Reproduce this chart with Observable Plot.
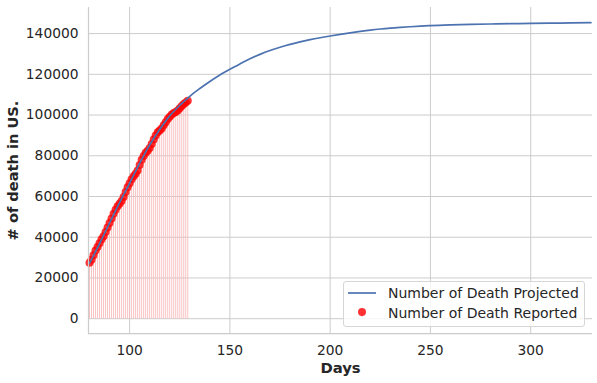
<!DOCTYPE html>
<html><head><meta charset="utf-8">
<script src="https://cdn.jsdelivr.net/npm/d3@7"></script>
<script src="https://cdn.jsdelivr.net/npm/@observablehq/plot@0.6"></script>
<style>
body{margin:0;background:#fff;font-family:"DejaVu Sans",sans-serif;}
#wrap{position:relative;width:597px;height:383px;}
#legend{position:absolute;left:343px;top:281px;width:240px;height:44px;border:1px solid #d6d6d6;border-radius:3px;background:rgba(255,255,255,0.8);font-size:14px;color:#262626;}
#legend .t{position:absolute;left:44px;white-space:nowrap;line-height:16px;}
</style></head><body><div id="wrap"></div>
<script>
// Projected curve (days, deaths)
const projDays = [80,85,90,95,100,105,110,115,120,125,130,135,140,145,150,155,160,165,170,175,180,185,190,195,200,205,210,215,220,225,230,235,240,245,250,260,270,280,290,300,310,320,330];
const projDeaths = [27200,36800,47000,57000,66500,76300,85300,92900,99600,104700,109200,113000,116500,119700,122500,125100,127600,129800,131700,133300,134700,135900,137000,137950,138800,139600,140350,141050,141700,142250,142700,143050,143350,143650,143900,144250,144500,144700,144850,145000,145120,145230,145330];
// Reported (days, deaths)
const repDays = [80,81,82,83,84,85,86,87,88,89,90,91,92,93,94,95,96,97,98,99,100,101,102,103,104,105,106,107,108,109,110,111,112,113,114,115,116,117,118,119,120,121,122,123,124,125,126,127,128,129];
const repDeaths = [27500,29000,31200,33500,35200,37000,39000,40500,42600,44800,47000,49200,51500,53500,55200,56500,57800,59800,62200,64500,66500,68500,70000,71200,72800,75500,78000,79900,81500,82500,83800,85800,88000,90000,91500,92400,93400,95000,96500,98000,99200,100300,101000,101500,102200,103300,104400,105400,106200,107000];
const xTicks = [100,150,200,250,300];
const yTicks = [0,20000,40000,60000,80000,100000,120000,140000];
const xLabel = "Days";
const yLabel = "# of death in US.";
const legendLabels = ["Number of Death Projected","Number of Death Reported"];

const proj = projDays.map((d,i)=>({day:d,deaths:projDeaths[i]}));
const rep = repDays.map((d,i)=>({day:d,deaths:repDeaths[i]}));
const xDom = [79.5,330.8], yDom = [-7270,152800];

const chart = Plot.plot({
  width:597,height:383,marginLeft:88,marginRight:5,marginTop:7,marginBottom:50,
  x:{domain:xDom},y:{domain:yDom},
  style:{fontFamily:"DejaVu Sans",fontSize:"13.8px",color:"#262626",background:"white"},
  marks:[
    Plot.gridX(xTicks,{stroke:"#cccccc",strokeOpacity:1,strokeWidth:1}),
    Plot.gridY(yTicks,{stroke:"#cccccc",strokeOpacity:1,strokeWidth:1}),
    Plot.link(rep,{x1:"day",x2:"day",y1:d=>0,y2:"deaths",stroke:"#f8bcbc",strokeOpacity:1,strokeWidth:0.9}),
    Plot.dot(rep,{x:"day",y:"deaths",r:4,fill:"red",fillOpacity:0.8,stroke:"none"}),
    Plot.line(proj,{x:"day",y:"deaths",stroke:"#4c72b0",strokeWidth:1.7,curve:"monotone-x"}),
    Plot.axisX(xTicks,{tickSize:0,tickPadding:12,label:null,fontSize:13.8,tickFormat:d=>String(d)}),
    Plot.axisY(yTicks,{tickSize:0,tickPadding:10,label:null,fontSize:13.8,tickFormat:d=>String(d)}),
    Plot.ruleX([xDom[0]],{stroke:"#cccccc",strokeWidth:1.25}),
    Plot.ruleY([yDom[0]],{stroke:"#cccccc",strokeWidth:1.25}),
    Plot.text([xLabel],{frameAnchor:"bottom",dy:35,lineAnchor:"middle",textAnchor:"middle",text:d=>d,fontWeight:"bold",fontSize:14.8,fill:"#262626"}),
    Plot.text([yLabel],{frameAnchor:"left",dx:-75,rotate:-90,lineAnchor:"middle",textAnchor:"middle",text:d=>d,fontWeight:"bold",fontSize:14.6,fill:"#262626"})
  ]
});
const wrap = document.getElementById("wrap");
wrap.appendChild(chart);
const lg = document.createElement("div");
lg.id = "legend";
lg.innerHTML = `
<svg width="240" height="44" style="position:absolute;left:0;top:0">
  <line x1="4" x2="32" y1="11" y2="11" stroke="#4c72b0" stroke-width="1.7"/>
  <line x1="18" x2="18" y1="30" y2="35" stroke="#f8bcbc"/>
  <circle cx="18" cy="30" r="4" fill="red" fill-opacity="0.8"/>
</svg>
<div class="t" style="top:3px">${legendLabels[0]}</div>
<div class="t" style="top:23px">${legendLabels[1]}</div>`;
wrap.appendChild(lg);
</script></body></html>
